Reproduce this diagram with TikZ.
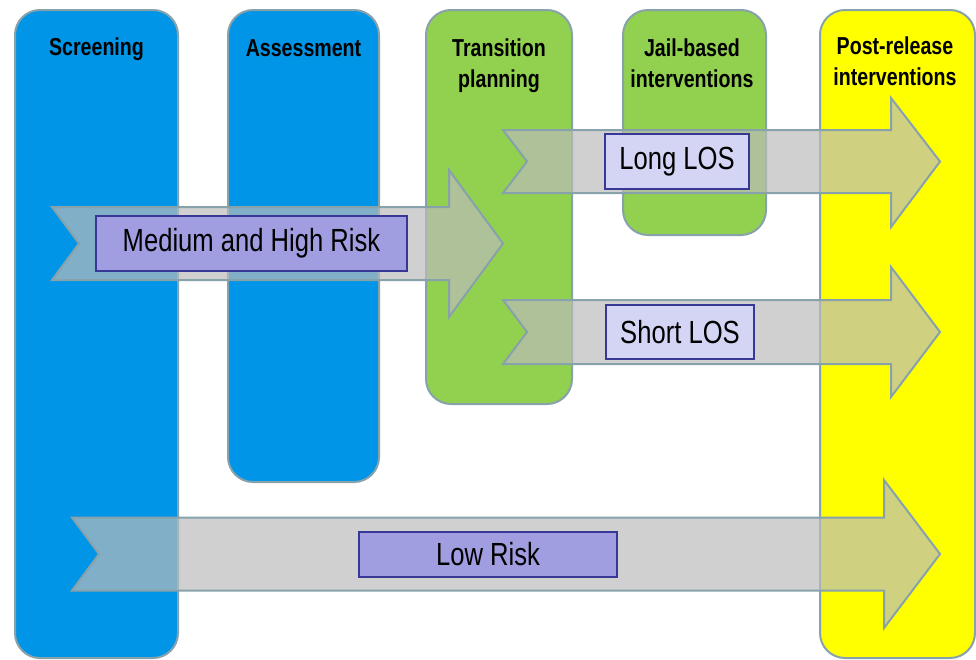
\documentclass[tikz,border=0pt]{standalone}
\usepackage{fontspec}
\setmainfont[FakeStretch=0.8]{Liberation Sans}
\definecolor{colblue}{RGB}{0,149,230}
\definecolor{colgreen}{RGB}{146,208,80}
\definecolor{colyellow}{RGB}{255,255,0}
\definecolor{edgegray}{RGB}{135,162,170}
\definecolor{arrowgray}{RGB}{187,187,187}
\definecolor{boxdark}{RGB}{160,157,224}
\definecolor{boxlight}{RGB}{212,212,244}
\definecolor{boxedge}{RGB}{55,55,150}
\begin{document}
\begin{tikzpicture}[x=1pt,y=-1pt,
  column/.style={draw=edgegray,line width=2pt,rounded corners=25pt},
  flow/.style={fill=arrowgray,fill opacity=0.69,draw=edgegray,draw opacity=1,line width=2pt,line join=miter},
  lbl/.style={draw=boxedge,line width=1.3pt,inner sep=0pt,font=\fontsize{32}{36}\selectfont,text=black},
  head/.style={anchor=base,inner sep=0pt,font=\bfseries\fontsize{24.5}{31}\selectfont}]
\useasboundingbox (0,0) rectangle (976,659);
% columns
\draw[column,fill=colblue] (15,10) rectangle (178,658);
\draw[column,fill=colblue] (228,10) rectangle (379,482);
\draw[column,fill=colgreen] (426,10) rectangle (572,404);
\draw[column,fill=colgreen] (623,10) rectangle (766,235);
\draw[column,fill=colyellow] (820,10) rectangle (975,658);
% headers
\node[head] (hscr) at (96.5,55) {Screening};
\node[head] (hass) at (303.5,56) {Assessment};
\node[head] (htra) at (499,56) {\begin{tabular}[t]{@{}c@{}}Transition\\planning\end{tabular}};
\node[head] (hjail) at (692,56) {\begin{tabular}[t]{@{}c@{}}Jail-based\\interventions\end{tabular}};
\node[head] (hpost) at (895,54) {\begin{tabular}[t]{@{}c@{}}Post-release\\interventions\end{tabular}};
% flow arrows
\draw[flow] (52,207) -- (449,207) -- (449,170) -- (503,243.5) -- (449,317) -- (449,280) -- (52,280) -- (79,243.5) -- cycle;
\draw[flow] (503,130) -- (891,130) -- (891,98) -- (940,161.5) -- (891,227) -- (891,193) -- (503,193) -- (527,161.5) -- cycle;
\draw[flow] (503,300) -- (891,300) -- (891,267) -- (940,332) -- (891,397) -- (891,364) -- (503,364) -- (527,332) -- cycle;
\draw[flow] (72,517.5) -- (884,517.5) -- (884,480) -- (940,554) -- (884,628) -- (884,590.5) -- (72,590.5) -- (99,554) -- cycle;
% labels
\node[lbl,fill=boxdark,minimum width=311pt,minimum height=55pt] (med) at (251.5,243.5) {Medium and High Risk};
\node[lbl,fill=boxlight,minimum width=144pt,minimum height=55pt] (long) at (677,161.5) {Long LOS};
\node[lbl,fill=boxlight,minimum width=148pt,minimum height=54pt] (short) at (680,332) {Short LOS};
\node[lbl,fill=boxdark,minimum width=258pt,minimum height=45pt] (low) at (488,554.5) {Low Risk};
\end{tikzpicture}
\end{document}
